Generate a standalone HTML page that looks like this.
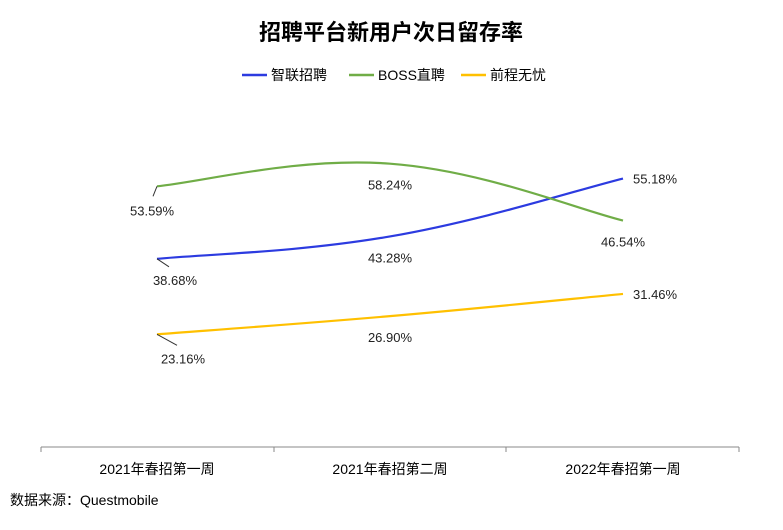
<!DOCTYPE html>
<html><head><meta charset="utf-8"><style>
body{margin:0;background:#fff;}
svg text{font-family:"Liberation Sans","Noto Sans CJK SC",sans-serif;}
</style></head><body>
<svg id="c" width="783" height="525" xmlns="http://www.w3.org/2000/svg">
<text x="391" y="40" text-anchor="middle" font-size="22" font-weight="bold" fill="#000">招聘平台新用户次日留存率</text>
<g id="legend"></g>
<line x1="41" y1="447" x2="739" y2="447" stroke="#888"/>
<g id="xa"></g>
<g id="series"></g>
<text x="10" y="505" font-size="14" fill="#000">数据来源：Questmobile</text>
</svg>
<script>
const categories=["2021年春招第一周","2021年春招第二周","2022年春招第一周"];
const seriesNames=["智联招聘","BOSS直聘","前程无忧"];
const zhilian=[38.68,43.28,55.18];
const boss=[53.59,58.24,46.54];
const qiancheng=[23.16,26.90,31.46];
const colors=["#2c3be0","#70ad47","#ffc000"];
const allSeries=[zhilian,boss,qiancheng];
const NS="http://www.w3.org/2000/svg";
const svg=document.getElementById('c');
const x=i=>157+i*233;
const y=v=>447-v*4.865;
function mk(t,a,p){const e=document.createElementNS(NS,t);for(const k in a)e.setAttribute(k,a[k]);(p||svg).appendChild(e);return e;}
const xa=document.getElementById('xa');
[41,274,506,739].forEach(tx=>{const l=mk('line',{x1:tx,y1:447,x2:tx,y2:452,stroke:'#888'},xa);

});
categories.forEach((c,i)=>{const t=mk('text',{x:x(i),y:474,'text-anchor':'middle','font-size':14,fill:'#000'},xa);t.textContent=c;

});
const lg=document.getElementById('legend');
const lx=[242,349,461];
seriesNames.forEach((n,i)=>{const g=mk('g',{},lg);


mk('line',{x1:lx[i],y1:75,x2:lx[i]+25,y2:75,stroke:colors[i],'stroke-width':2.5},g);
const t=mk('text',{x:lx[i]+29,y:80,'font-size':14,fill:'#000'},g);t.textContent=n;});
function path(vals){const p=vals.map((v,i)=>[x(i),y(v)]);let d=`M${p[0][0]},${p[0][1]}`;const s=0.2;
for(let i=0;i<p.length-1;i++){const p0=p[Math.max(i-1,0)],p1=p[i],p2=p[i+1],p3=p[Math.min(i+2,p.length-1)];
const c1=[p1[0]+(p2[0]-p0[0])*s,p1[1]+(p2[1]-p0[1])*s];const c2=[p2[0]-(p3[0]-p1[0])*s,p2[1]-(p3[1]-p1[1])*s];
d+=` C${c1[0]},${c1[1]} ${c2[0]},${c2[1]} ${p2[0]},${p2[1]}`;}return d;}
const sg=document.getElementById('series');
const leaders=[[12,8],[-4,10],[20,11]];
allSeries.forEach((vals,si)=>{const g=mk('g',{},sg);


const pth=mk('path',{d:path(vals),fill:'none',stroke:colors[si],'stroke-width':2.2},g);


vals.forEach((v,i)=>{let tx=x(i),ty=y(v)+26,anchor='middle';
if(i===0){const L=leaders[si];const ln=mk('line',{x1:x(0),y1:y(v),x2:x(0)+L[0],y2:y(v)+L[1],stroke:'#333','stroke-width':1},g);


tx=x(0)+L[0]+6;ty=y(v)+L[1]+18;if(si===1){tx=x(0)-27;ty=y(v)+29;anchor='start';}}
if(i===2&&(si===0||si===2)){tx=x(i)+10;ty=y(v)+5;anchor='start';}
const t=mk('text',{x:tx,y:ty,'text-anchor':anchor,'font-size':13,fill:'#222'},g);t.textContent=v.toFixed(2)+'%';

});});
</script>
</body></html>
